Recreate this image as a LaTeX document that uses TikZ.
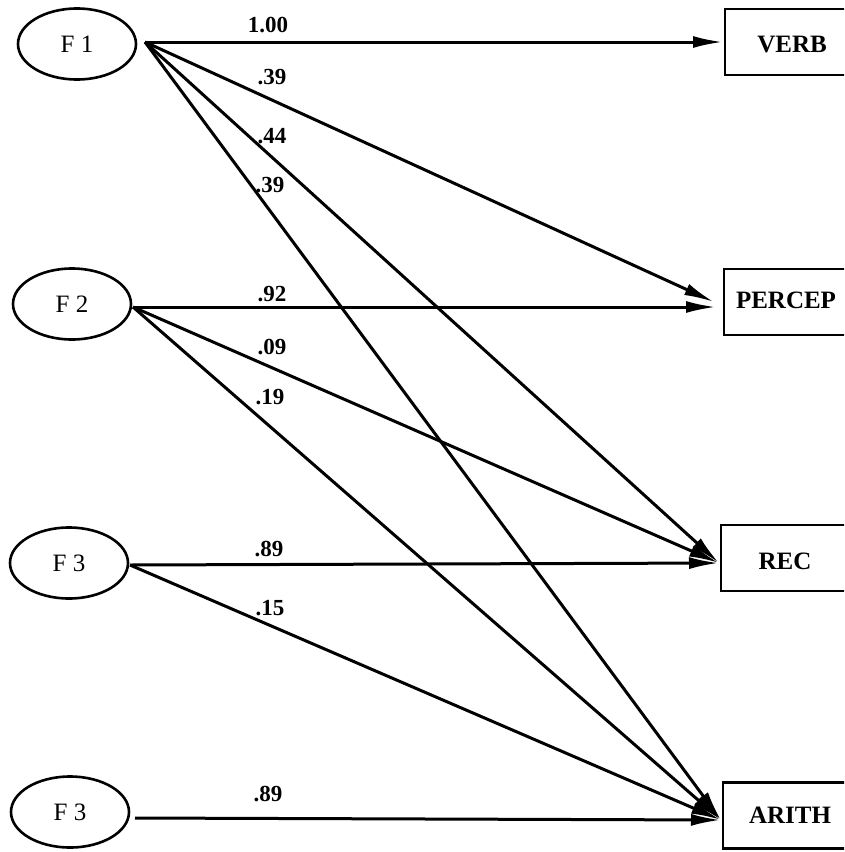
\documentclass[tikz,border=0pt]{standalone}
\usepackage{fontspec}
\setmainfont{Liberation Serif}
\usetikzlibrary{arrows.meta,shapes.geometric}
\begin{document}
\begin{tikzpicture}[x=1pt,y=-1pt,
  lat/.style={ellipse, draw, line width=2.6pt, minimum width=118pt, minimum height=71pt, inner sep=0pt, font=\fontsize{25}{25}\selectfont},
  obs/.style={rectangle, draw, line width=2.6pt, minimum width=138pt, minimum height=66pt, inner sep=0pt, font=\fontsize{25}{25}\selectfont\bfseries},
  arr/.style={line width=3pt, -{Latex[length=30pt,width=12pt]}},
  lab/.style={inner sep=0pt, font=\fontsize{23}{23}\selectfont\bfseries}]
\useasboundingbox (0,0) rectangle (844,852);
\clip (0,0) rectangle (844,852);
% latent factors
\node[lat] (f1) at (77,44) {F 1};
\node[lat] (f2) at (72,304) {F 2};
\node[lat] (f3) at (69,563) {F 3};
\node[lat] (f3b) at (70,812) {F 3};
% observed
\node[obs] (verb) at (794,42) {};
\node[obs] (percep) at (793,302) {};
\node[obs] (rec) at (790,558) {};
\node[obs] (arith) at (792,815.5) {};
\node[obs, draw=none] at (792,45) {VERB};
\node[obs, draw=none] at (786,300) {PERCEP};
\node[obs, draw=none] at (785,561) {REC};
\node[obs, draw=none] at (790,815) {ARITH};
% start coordinates
\coordinate (f1o) at (145,42);
\coordinate (f2o) at (133,307);
\coordinate (f3o) at (130,565);
\coordinate (f3bo) at (135,818);
% end coordinates
\coordinate (verbin) at (723,42);
\coordinate (percepinA) at (714,302);
\coordinate (percepinB) at (716,307);
\coordinate (recin) at (719,563);
\coordinate (arithin) at (721,820);
% connectors
\draw[arr] (f1o) -- (verbin);
\draw[arr] (f1o) -- (percepinA);
\draw[arr] (f1o) -- (recin);
\draw[arr] (f1o) -- (arithin);
\draw[arr] (f2o) -- (percepinB);
\draw[arr] (f2o) -- (recin);
\draw[arr] (f2o) -- (arithin);
\draw[arr] (f3o) -- (recin);
\draw[arr] (f3o) -- (arithin);
\draw[arr] (f3bo) -- (arithin);
% labels
\node[lab] (l1) at (268,25) {1.00};
\node[lab] (l2) at (272,77) {.39};
\node[lab] (l3) at (272,136) {.44};
\node[lab] (l4) at (270,185) {.39};
\node[lab] (l5) at (272,294) {.92};
\node[lab] (l6) at (272,347) {.09};
\node[lab] (l7) at (270,397) {.19};
\node[lab] (l8) at (269,549) {.89};
\node[lab] (l9) at (270,608) {.15};
\node[lab] (l10) at (268,794) {.89};
\end{tikzpicture}
\end{document}
